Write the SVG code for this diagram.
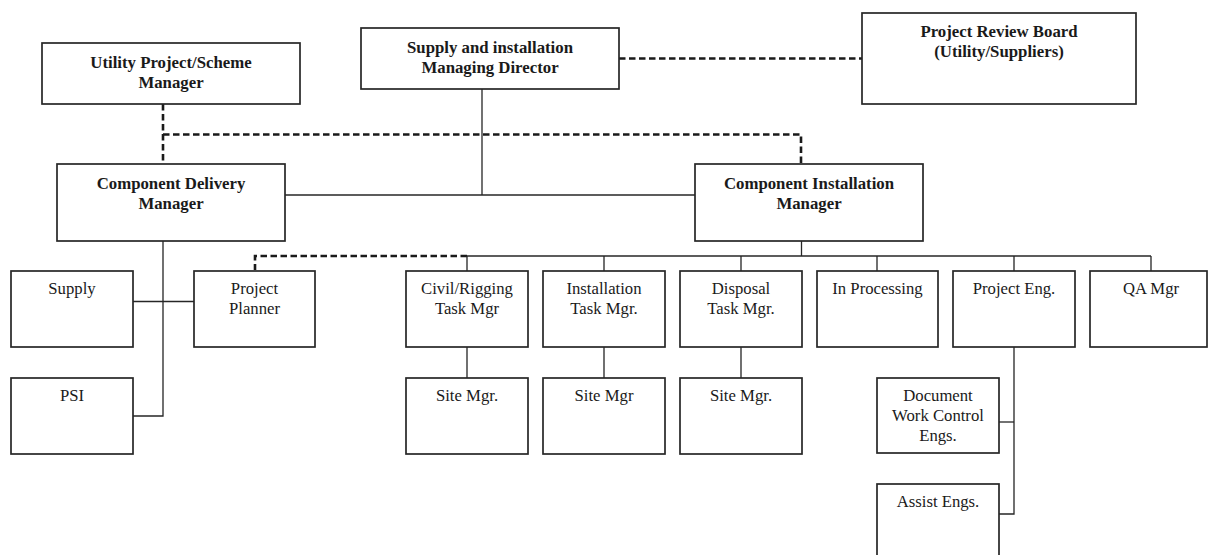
<svg xmlns="http://www.w3.org/2000/svg" width="1209" height="555" viewBox="0 0 1209 555">
<style>
.box{fill:#fff;stroke:#262626;stroke-width:1.7}
.b{font-family:"Liberation Serif","Times New Roman",serif;font-weight:bold;font-size:16.8px;fill:#1a1a1a;text-anchor:middle}
.r{font-family:"Liberation Serif","Times New Roman",serif;font-size:16.7px;fill:#1a1a1a;text-anchor:middle}
.s{fill:none;stroke:#262626;stroke-width:1.3}
.d{fill:none;stroke:#1a1a1a;stroke-width:2.6;stroke-dasharray:6.5 3.5}
</style>
<rect width="1209" height="555" fill="#fff"/>
<g id="connectors">
<path class="d" d="M163 104V163"/>
<path class="d" d="M163 134.5H801V163"/>
<path class="d" d="M619 58.5H862"/>
<path class="d" d="M467 256H255V270"/>
<path class="s" d="M482 89V195"/>
<path class="s" d="M285 195H695"/>
<path class="s" d="M801.5 241V256"/>
<path class="s" d="M467 256H1151"/>
<path class="s" d="M467 256V271M604 256V271M741 256V271M877 256V271M1014 256V271M1151 256V271"/>
<path class="s" d="M163 241V416H133"/>
<path class="s" d="M133 301.5H194"/>
<path class="s" d="M467 347V378M604 347V378M741 347V378"/>
<path class="s" d="M1014 347V514H999"/>
<path class="s" d="M999 422H1014"/>
</g>
<g id="utility"><rect class="box" x="42" y="43" width="258" height="61"/><text class="b" x="171" y="68">Utility Project/Scheme</text><text class="b" x="171" y="88">Manager</text></g>
<g id="director"><rect class="box" x="361" y="28" width="258" height="61"/><text class="b" x="490" y="53">Supply and installation</text><text class="b" x="490" y="73">Managing Director</text></g>
<g id="review"><rect class="box" x="862" y="13" width="274" height="91"/><text class="b" x="999" y="37">Project Review Board</text><text class="b" x="999" y="57">(Utility/Suppliers)</text></g>
<g id="cdm"><rect class="box" x="57" y="164" width="228" height="77"/><text class="b" x="171" y="189">Component Delivery</text><text class="b" x="171" y="209">Manager</text></g>
<g id="cim"><rect class="box" x="695" y="164" width="228" height="77"/><text class="b" x="809" y="189">Component Installation</text><text class="b" x="809" y="209">Manager</text></g>
<g id="supply"><rect class="box" x="11" y="271" width="122" height="76"/><text class="r" x="72" y="294">Supply</text></g>
<g id="planner"><rect class="box" x="194" y="271" width="121" height="76"/><text class="r" x="254.5" y="294">Project</text><text class="r" x="254.5" y="314">Planner</text></g>
<g id="civil"><rect class="box" x="406" y="271" width="122" height="76"/><text class="r" x="467" y="294">Civil/Rigging</text><text class="r" x="467" y="314">Task Mgr</text></g>
<g id="install"><rect class="box" x="543" y="271" width="122" height="76"/><text class="r" x="604" y="294">Installation</text><text class="r" x="604" y="314">Task Mgr.</text></g>
<g id="disposal"><rect class="box" x="680" y="271" width="122" height="76"/><text class="r" x="741" y="294">Disposal</text><text class="r" x="741" y="314">Task Mgr.</text></g>
<g id="inproc"><rect class="box" x="817" y="271" width="121" height="76"/><text class="r" x="877.5" y="294">In Processing</text></g>
<g id="projeng"><rect class="box" x="953" y="271" width="122" height="76"/><text class="r" x="1014" y="294">Project Eng.</text></g>
<g id="qa"><rect class="box" x="1090" y="271" width="117" height="76"/><text class="r" x="1151" y="294">QA Mgr</text></g>
<g id="psi"><rect class="box" x="11" y="378" width="122" height="76"/><text class="r" x="72" y="401">PSI</text></g>
<g id="site1"><rect class="box" x="406" y="378" width="122" height="76"/><text class="r" x="467" y="401">Site Mgr.</text></g>
<g id="site2"><rect class="box" x="543" y="378" width="122" height="76"/><text class="r" x="604" y="401">Site Mgr</text></g>
<g id="site3"><rect class="box" x="680" y="378" width="122" height="76"/><text class="r" x="741" y="401">Site Mgr.</text></g>
<g id="doc"><rect class="box" x="877" y="378" width="122" height="75"/><text class="r" x="938" y="401">Document</text><text class="r" x="938" y="421">Work Control</text><text class="r" x="938" y="441">Engs.</text></g>
<g id="assist"><rect class="box" x="877" y="484" width="122" height="80"/><text class="r" x="938" y="507">Assist Engs.</text></g>
</svg>
